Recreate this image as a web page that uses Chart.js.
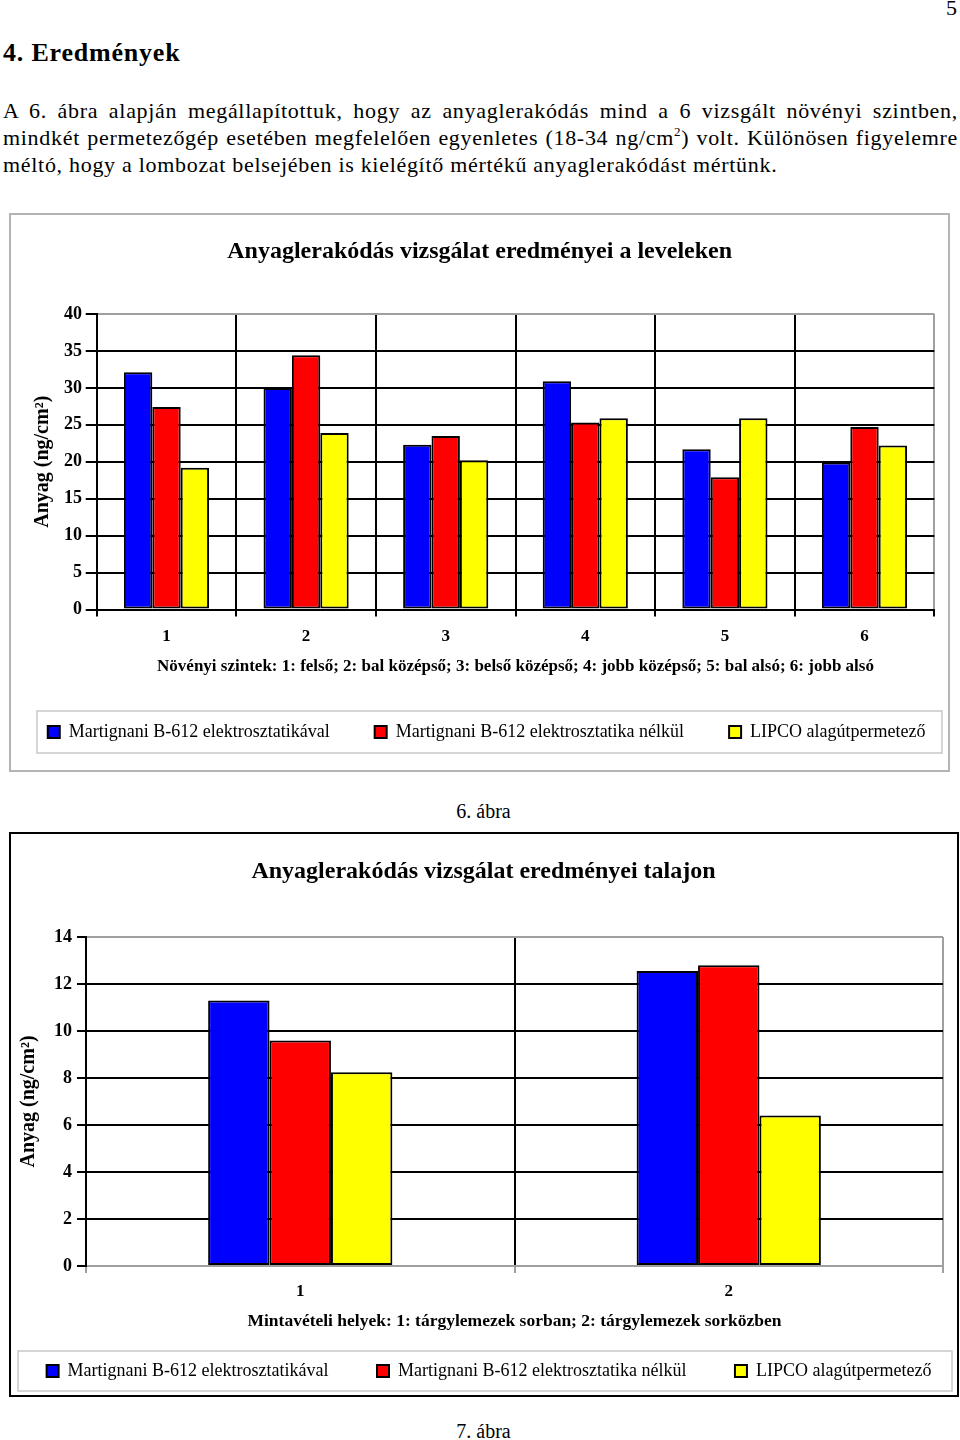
<!DOCTYPE html>
<html>
<head>
<meta charset="utf-8">
<script src="https://cdn.jsdelivr.net/npm/chart.js@4.4.1/dist/chart.umd.min.js"></script>
<style>
html,body{margin:0;padding:0;background:#fff;}
body{width:960px;height:1440px;position:relative;overflow:hidden;font-family:"Liberation Serif","Times New Roman",serif;color:#000;}
#pagenum{position:absolute;right:3px;top:-3px;font-size:22px;line-height:22px;}
#heading{position:absolute;left:3px;top:37px;font-size:26px;font-weight:bold;line-height:32px;letter-spacing:0.8px;}
.line{position:absolute;left:3px;width:955px;font-size:22px;line-height:27px;letter-spacing:0.7px;white-space:nowrap;}
.just{text-align:justify;text-align-last:justify;}
sup{font-size:13px;line-height:0;vertical-align:9px;}
.fig{position:absolute;box-sizing:border-box;}
#fig1{left:9px;top:213px;width:941px;height:559px;border:2px solid #b4b4b4;}
#fig2{left:9px;top:832px;width:950px;height:565px;border:2px solid #000;}
.fig canvas{display:block;}
.caption{position:absolute;left:383.5px;width:200px;text-align:center;font-size:20px;line-height:24px;}
</style>
</head>
<body>
<div id="pagenum">5</div>
<div id="heading">4. Eredmények</div>
<div class="line just" style="top:97.4px">A 6. ábra alapján megállapítottuk, hogy az anyaglerakódás mind a 6 vizsgált növényi szintben,</div>
<div class="line just" style="top:124.4px">mindkét permetezőgép esetében megfelelően egyenletes (18-34 ng/cm<sup>2</sup>) volt. Különösen figyelemre</div>
<div class="line" style="top:151px">méltó, hogy a lombozat belsejében is kielégítő mértékű anyaglerakódást mértünk.</div>

<div id="fig1" class="fig"><canvas id="c1" width="937" height="555"></canvas></div>
<div class="caption" style="top:798.5px">6. ábra</div>
<div id="fig2" class="fig"><canvas id="c2" width="946" height="561"></canvas></div>
<div class="caption" style="top:1419.3px">7. ábra</div>

<script>
// ---- Data ----
const seriesNames = ['Martignani B-612 elektrosztatikával', 'Martignani B-612 elektrosztatika nélkül', 'LIPCO alagútpermetező'];
const seriesColors = ['#0000FF', '#FF0000', '#FFFF00'];

const leafCategories = ['1', '2', '3', '4', '5', '6'];
const leafElectro   = [32.1, 30.0, 22.3, 30.9, 21.7, 19.9];
const leafNoElectro = [27.4, 34.4, 23.5, 25.3, 17.9, 24.7];
const leafLipco     = [19.2, 23.9, 20.2, 25.9, 25.9, 22.2];
const leafYMax = 40, leafYStep = 5;

const soilCategories = ['1', '2'];
const soilElectro   = [11.3, 12.55];
const soilNoElectro = [9.6, 12.8];
const soilLipco     = [8.25, 6.4];
const soilYMax = 14, soilYStep = 2;

const FONT = "'Liberation Serif', 'Times New Roman', serif";
const GRAY = '#a0a0a0';

const shiftPlugin = {
  id: 'shiftAndFrame',
  afterLayout(chart, args, opts) {
    const l = chart.legend;
    if (l) {
      const lo = l.options.labels;
      // keep all legend items on one row (as in the original), centred and shifted
      const total = (l.legendHitBoxes || []).reduce((a, h) => a + h.width + lo.padding, 0);
      l.lineWidths = [total];
      l.left += opts.legendDx - 80; l.right += opts.legendDx + 80;
      l.width = l.right - l.left;
      l.top += opts.legendDy;
      l.bottom = l.top + lo.padding + lo.font.size + 12;
      l.height = l.bottom - l.top;
    }
    const t = chart.titleBlock;
    if (t) { t.left += opts.titleDx; t.right += opts.titleDx; }
  },
  afterDraw(chart, args, opts) {
    const l = chart.legend;
    if (!l) return;
    const lo = l.options.labels;
    const cy = l.top + lo.padding + lo.font.size / 2;
    const ctx = chart.ctx;
    ctx.save();
    ctx.strokeStyle = opts.frameColor;
    ctx.lineWidth = 1.5;
    ctx.strokeRect(opts.frameInsetL, cy - opts.frameHalf, chart.width - opts.frameInsetL - opts.frameInsetR, opts.frameHalf * 2);
    ctx.restore();
  }
};

function build(canvasId, p) {
  const datasets = [p.s1, p.s2, p.s3].map((d, i) => ({
    label: seriesNames[i],
    data: d,
    backgroundColor: seriesColors[i],
    borderColor: '#000',
    borderWidth: 2,
    borderSkipped: false,
    barPercentage: 1.0,
    categoryPercentage: p.catPct
  }));
  return new Chart(document.getElementById(canvasId), {
    type: 'bar',
    data: { labels: p.labels, datasets },
    plugins: [shiftPlugin],
    options: {
      responsive: false,
      devicePixelRatio: 1,
      animation: false,
      layout: { padding: p.layoutPad },
      plugins: {
        tooltip: { enabled: false },
        title: {
          display: true, text: p.title, color: '#000',
          font: { family: FONT, size: 24, weight: 'bold' },
          padding: p.titlePad
        },
        legend: {
          display: true, position: 'bottom', maxHeight: 40,
          labels: {
            boxWidth: 12, boxHeight: 12, color: '#000', padding: p.legendGap,
            font: { family: FONT, size: 18 }
          }
        },
        shiftAndFrame: p.shift
      },
      scales: {
        x: {
          offset: true,
          grid: {
            offset: true, lineWidth: 2, tickLength: 7, tickColor: p.xTickColor,
            color: (c) => (c.index === undefined ? GRAY : '#000')
          },
          border: { display: true, color: p.xBorderColor, width: 2 },
          ticks: { color: '#000', padding: p.xTickPad, font: { family: FONT, size: 17, weight: 'bold' } },
          title: {
            display: true, text: p.xTitle, color: '#000',
            font: { family: FONT, size: p.xTitleSize, weight: 'bold' }, padding: { top: 0, bottom: 0 }
          },
          afterFit: (s) => { s.height = p.xHeight; }
        },
        y: {
          min: 0, max: p.yMax,
          grid: {
            lineWidth: 2, tickLength: p.yTickLen, tickColor: '#000',
            color: (c) => (c.tick && (c.tick.value === p.yMax || (p.grayZero && c.tick.value === 0)) ? GRAY : '#000')
          },
          border: { display: true, color: '#000', width: 2 },
          ticks: { stepSize: p.yStep, color: '#000', padding: p.yTickPad, font: { family: FONT, size: 18, weight: 'bold' } },
          title: {
            display: true, text: 'Anyag (ng/cm²)', color: '#000',
            font: { family: FONT, size: 20, weight: 'bold' }, padding: { top: p.yTitlePad, bottom: 0 }
          },
          afterFit: (s) => { s.width = p.yWidth; }
        }
      }
    }
  });
}

build('c1', {
  labels: leafCategories, s1: leafElectro, s2: leafNoElectro, s3: leafLipco,
  catPct: 0.61, yMax: leafYMax, yStep: leafYStep, grayZero: false,
  title: 'Anyaglerakódás vizsgálat eredményei a leveleken',
  titlePad: { top: 22.6, bottom: 47.6 },
  xTitle: 'Növényi szintek: 1: felső; 2: bal középső; 3: belső középső; 4: jobb középső; 5: bal alsó; 6: jobb alsó',
  xTitleSize: 17,
  layoutPad: { top: 0, left: 0, right: 13.7, bottom: 52.8 },
  xHeight: 67.7, xTickPad: 10.3, xTickColor: '#000', xBorderColor: '#000',
  yWidth: 85.7, yTickLen: 11, yTickPad: 3.7, yTitlePad: 20,
  legendGap: 45,
  shift: { legendDx: 14, legendDy: 0.8, titleDx: 7, frameColor: '#c8c8c8', frameInsetL: 26, frameInsetR: 6, frameHalf: 21 }
});

build('c2', {
  labels: soilCategories, s1: soilElectro, s2: soilNoElectro, s3: soilLipco,
  catPct: 0.43, yMax: soilYMax, yStep: soilYStep, grayZero: true,
  title: 'Anyaglerakódás vizsgálat eredményei talajon',
  titlePad: { top: 23.6, bottom: 50.6 },
  xTitle: 'Mintavételi helyek: 1: tárgylemezek sorban; 2: tárgylemezek sorközben',
  xTitleSize: 17.5,
  layoutPad: { top: 0, left: 0, right: 14, bottom: 22.9 },
  xHeight: 66.1, xTickPad: 8.8, xTickColor: GRAY, xBorderColor: GRAY,
  yWidth: 75, yTickLen: 9, yTickPad: 5, yTitlePad: 6,
  legendGap: 48.5,
  shift: { legendDx: 12, legendDy: -18.6, titleDx: 6.5, frameColor: '#c8c8c8', frameInsetL: 7, frameInsetR: 5, frameHalf: 20 }
});
</script>
</body>
</html>
